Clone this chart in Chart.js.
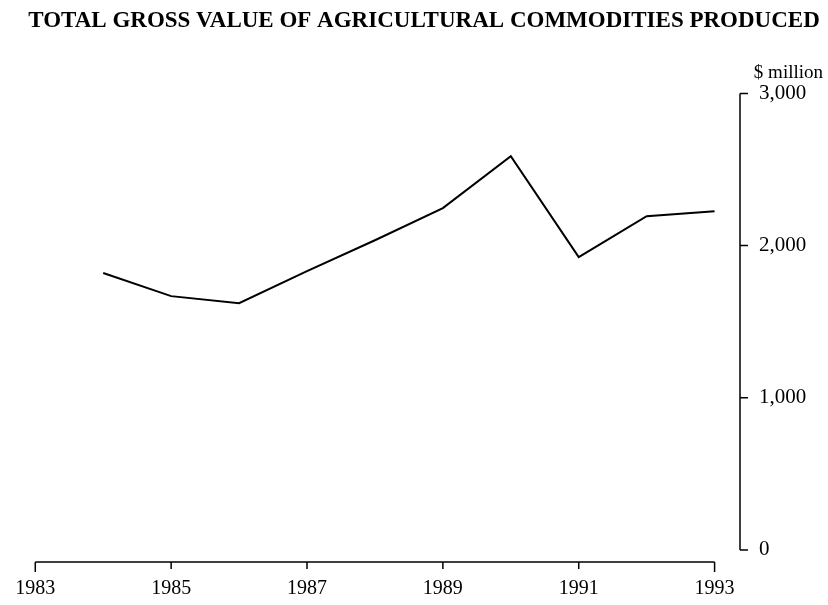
<!DOCTYPE html>
<html>
<head>
<meta charset="utf-8">
<script src="https://cdn.jsdelivr.net/npm/chart.js@4.4.1/dist/chart.umd.min.js"></script>
<style>
  html, body { margin: 0; padding: 0; background: #ffffff; }
  #wrap { width: 828px; height: 605px; }
</style>
</head>
<body>
<div id="wrap"><canvas id="c" width="828" height="605"></canvas></div>
<script>
// ---- data ----
const titleText = 'TOTAL GROSS VALUE OF AGRICULTURAL COMMODITIES PRODUCED';
const unitLabel = '$ million';
const years  = [1984, 1985, 1986, 1987, 1988, 1989, 1990, 1991, 1992, 1993];
const values = [1820, 1668, 1622, 1832, 2035, 2246, 2587, 1924, 2193, 2226];
const xTickYears  = [1983, 1985, 1987, 1989, 1991, 1993];
const yTickValues = [0, 1000, 2000, 3000];

const serif = "'Liberation Serif', 'Times New Roman', 'DejaVu Serif', serif";

const axisLines = {
  id: 'axisLines',
  afterDraw(chart) {
    const ctx = chart.ctx, ax = chart.scales.x, ay = chart.scales.y, ca = chart.chartArea;
    ctx.save();
    ctx.strokeStyle = '#000';
    ctx.lineWidth = 1.5;
    ctx.lineCap = 'butt';
    // x axis
    const yb = ca.bottom;
    const x0 = ax.getPixelForValue(xTickYears[0]);
    const x1 = ax.getPixelForValue(xTickYears[xTickYears.length - 1]);
    ctx.beginPath();
    ctx.moveTo(x0, yb); ctx.lineTo(x1, yb);
    xTickYears.forEach((yr, i) => {
      const px = ax.getPixelForValue(yr);
      const len = (i === 0 || i === xTickYears.length - 1) ? 10 : 7;
      ctx.moveTo(px, yb); ctx.lineTo(px, yb + len);
    });
    ctx.stroke();
    // y axis
    const xr = ca.right;
    const yTop = ay.getPixelForValue(yTickValues[yTickValues.length - 1]);
    const yBot = ay.getPixelForValue(yTickValues[0]);
    ctx.beginPath();
    ctx.moveTo(xr, yTop); ctx.lineTo(xr, yBot);
    yTickValues.forEach(v => {
      const py = ay.getPixelForValue(v);
      ctx.moveTo(xr, py); ctx.lineTo(xr + 8, py);
    });
    ctx.stroke();
    ctx.restore();
  }
};

new Chart(document.getElementById('c'), {
  type: 'line',
  data: {
    datasets: [{
      data: years.map((y, i) => ({ x: y, y: values[i] })),
      borderColor: '#000',
      borderWidth: 2,
      pointRadius: 0,
      tension: 0,
      fill: false
    }]
  },
  options: {
    responsive: false,
    animation: false,
    devicePixelRatio: 1,
    layout: { padding: { left: 25, right: 5, top: 0, bottom: 0 } },
    plugins: {
      legend: { display: false },
      tooltip: { enabled: false },
      title: {
        display: true,
        text: titleText,
        color: '#000',
        font: { family: serif, size: 23, weight: 'bold' },
        padding: { top: 7, bottom: 0 }
      },
      subtitle: {
        display: true,
        text: unitLabel,
        align: 'end',
        color: '#000',
        font: { family: serif, size: 19 },
        padding: { top: 27, bottom: 9 }
      }
    },
    scales: {
      x: {
        type: 'linear',
        min: 1982.883,
        max: 1993.374,
        grid: { display: false, drawTicks: false },
        border: { display: false },
        afterBuildTicks: s => { s.ticks = xTickYears.map(v => ({ value: v })); },
        afterFit: s => { s.height = 43; },
        ticks: {
          color: '#000',
          font: { family: serif, size: 20 },
          padding: 15,
          maxRotation: 0,
          autoSkip: false,
          callback: v => String(v)
        }
      },
      y: {
        position: 'right',
        min: -79,
        max: 3000,
        grid: { display: false, drawTicks: false },
        border: { display: false },
        afterBuildTicks: s => { s.ticks = yTickValues.map(v => ({ value: v })); },
        afterFit: s => { s.width = 83; },
        ticks: {
          color: '#000',
          font: { family: serif, size: 21 },
          padding: 19,
          autoSkip: false,
          callback: v => v.toLocaleString('en-US')
        }
      }
    }
  },
  plugins: [axisLines]
});
</script>
</body>
</html>
